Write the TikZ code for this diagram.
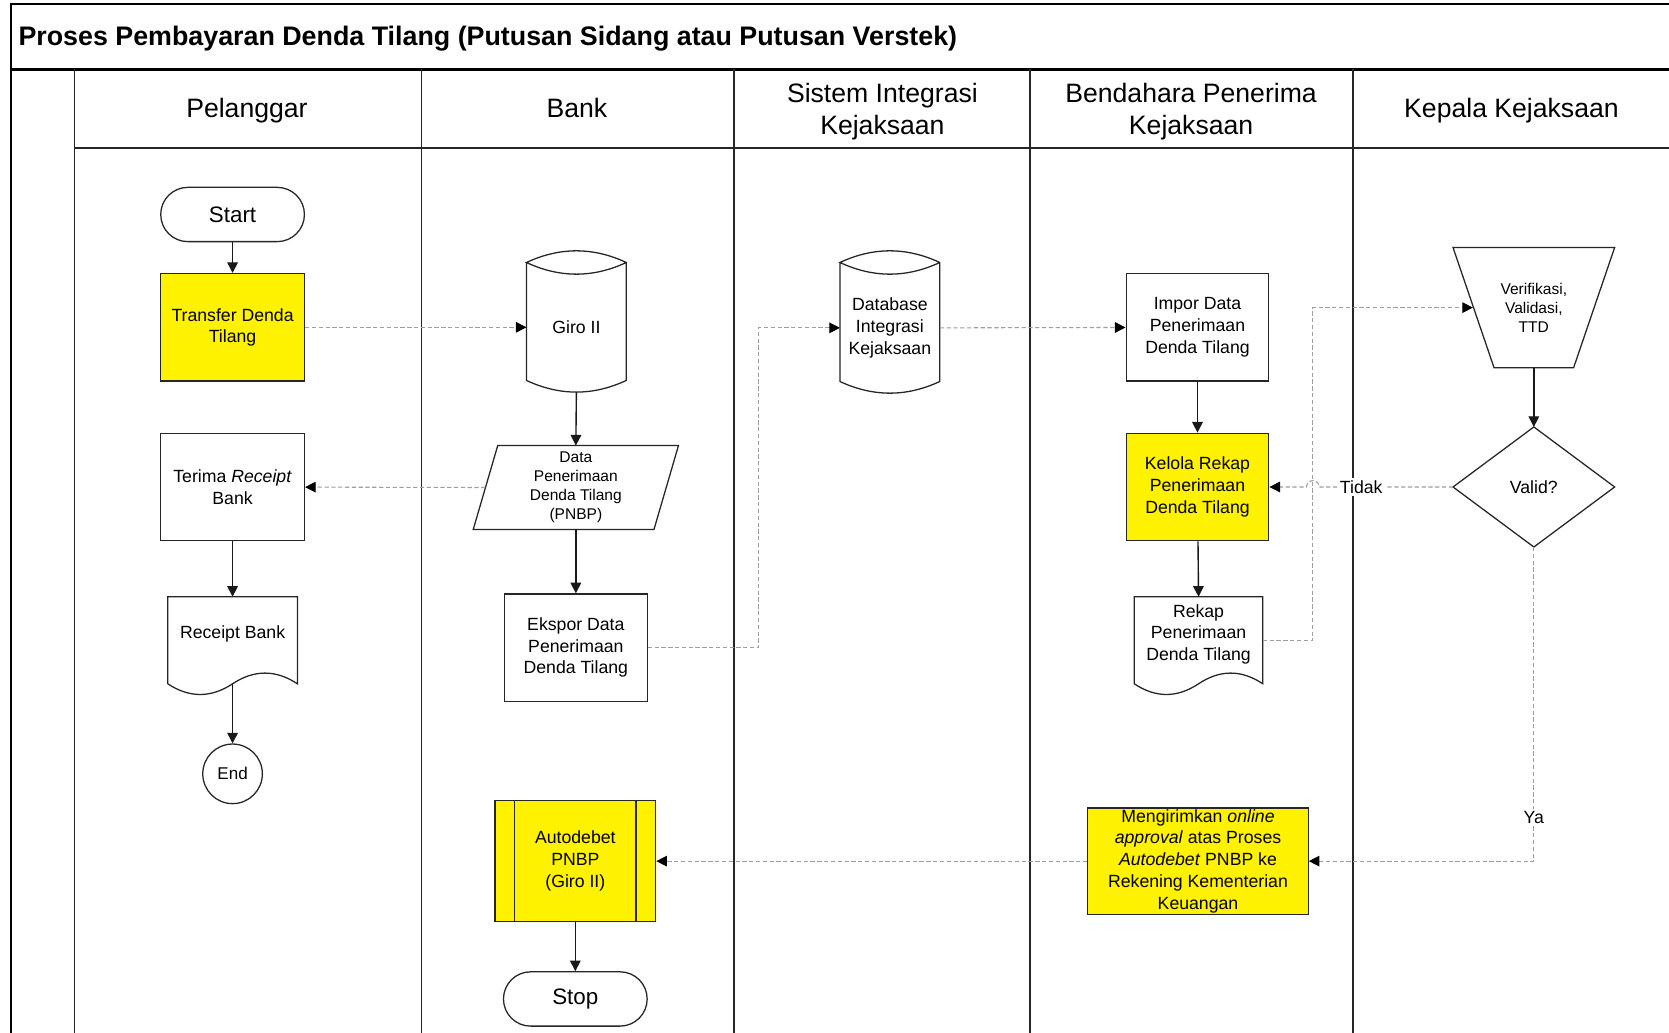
\documentclass[tikz,border=0pt]{standalone}
\usepackage{fontspec}
\setmainfont{Liberation Sans}
\usetikzlibrary{calc,arrows.meta}

% outline of a storage cylinder around a body node
\newcommand\cylout[1]{%
  \draw[shapeline] (#1.north west) -- ([yshift=5.5pt]#1.south west)
    .. controls ($(#1.south west)!0.333!(#1.south east)+(0pt,-1.8pt)$) and ($(#1.south west)!0.667!(#1.south east)+(0pt,-1.8pt)$) .. ([yshift=5.5pt]#1.south east)
    -- (#1.north east)
    .. controls ($(#1.north west)!0.667!(#1.north east)+(0pt,7.3pt)$) and ($(#1.north west)!0.333!(#1.north east)+(0pt,7.3pt)$) .. (#1.north west)
    .. controls ($(#1.north west)!0.333!(#1.north east)+(0pt,-7.3pt)$) and ($(#1.north west)!0.667!(#1.north east)+(0pt,-7.3pt)$) .. (#1.north east);}
% outline of a document with a wavy lower edge
\newcommand\docout[1]{%
  \draw[shapeline] (#1.south west) -- (#1.north west) -- (#1.north east) -- (#1.south east)
    .. controls ($(#1.south)!0.667!(#1.south east)+(0pt,6.7pt)$) and ($(#1.south)!0.333!(#1.south east)+(0pt,6.7pt)$) .. (#1.south)
    .. controls ($(#1.south west)!0.667!(#1.south)+(0pt,-6.7pt)$) and ($(#1.south west)!0.333!(#1.south)+(0pt,-6.7pt)$) .. (#1.south west);}

\begin{document}
\begin{tikzpicture}[x=0.5pt,y=-0.5pt,
  lane/.style={line width=0.9pt, draw=black!85},
  shapeline/.style={line width=0.6pt, draw=black!85, line join=miter},
  txt/.style={align=center, inner sep=0pt, font=\fontsize{8.3}{10.2}\selectfont},
  smalltxt/.style={align=center, inner sep=0pt, font=\fontsize{7.3}{8.9}\selectfont},
  plain/.style={txt, draw=none},
  box/.style={txt, shapeline, draw, minimum width=67.5pt, minimum height=50.5pt},
  hl/.style={fill=yellow},
  term/.style={draw, shapeline, align=center, inner sep=0pt, minimum width=67.5pt, minimum height=25.5pt, rounded corners=12.75pt, font=\fontsize{10.5}{12}\selectfont},
  head/.style={align=center, inner sep=0pt, font=\fontsize{12.5}{15}\selectfont},
  flow/.style={line width=0.65pt, draw=black!90, -{Triangle[length=5pt,width=5pt]}},
  msg/.style={draw=black!38, line width=0.5pt, dash pattern=on 2pt off 1.2pt, -{Triangle[length=5pt,width=5pt,color=black,fill=black]}},
  tag/.style={txt, fill=white, inner sep=1pt}
]
\useasboundingbox (0,0) rectangle (1568,970);
\clip (0,0) rectangle (1568,970);
\fill[white] (0,0) rectangle (1568,970);

% pool frame and lanes
\draw[line width=0.9pt] (10,980) -- (10,4) -- (1580,4);
\draw[line width=1.5pt] (10,65) -- (1580,65);
\draw[lane] (70,139) -- (1580,139);
\foreach \lx in {70,396,690,968,1271} \draw[lane] (\lx,65) -- (\lx,980);

\node[anchor=west, inner sep=0pt, font=\bfseries\fontsize{12.6}{14}\selectfont] (title) at (17,36) {Proses Pembayaran Denda Tilang (Putusan Sidang atau Putusan Verstek)};

\node[head] (h1) at (232,103.5) {Pelanggar};
\node[head] (h2) at (542,101.5) {Bank};
\node[head] (h3) at (829,105) {Sistem Integrasi\\Kejaksaan};
\node[head] (h4) at (1119,105) {Bendahara Penerima\\Kejaksaan};
\node[head] (h5) at (1420,103.5) {Kepala Kejaksaan};

% Pelanggar
\node[term] (start) at (218.5,201.5) {Start};
\node[box, hl] (transfer) at (218.5,307.5) {Transfer Denda\\Tilang};
\node[box] (terima) at (218.5,457.5) {Terima \textit{Receipt}\\Bank};
\node[plain, minimum width=60.5pt, minimum height=40.5pt] (rcpt) at (218.5,601.5) {};
\docout{rcpt}
\node[txt] (rcpt-t) at ([yshift=2.75pt]rcpt.center) {Receipt Bank};
\node[draw, shapeline, circle, minimum size=28pt, inner sep=0pt, font=\fontsize{8}{9}\selectfont] (endc) at (218.5,727) {End};

% Bank
\node[plain, minimum width=46.5pt, minimum height=60.5pt] (giro) at (541.5,307.5) {Giro II};
\cylout{giro}
\node[plain, smalltxt, minimum width=84.5pt, minimum height=39pt] (data) at (541,458) {Data\\Penerimaan\\Denda Tilang\\(PNBP)};
\draw[shapeline] ([xshift=5.75pt]data.north west) -- ([xshift=5.75pt]data.north east) -- ([xshift=-5.75pt]data.south east) -- ([xshift=-5.75pt]data.south west) -- cycle;
\node[box, minimum width=67pt] (ekspor) at (541,608.5) {Ekspor Data\\Penerimaan\\Denda Tilang};
\node[box, hl, minimum width=75.5pt, minimum height=57pt] (autodb) at (540.5,809) {Autodebet\\PNBP\\(Giro II)};
\draw[shapeline] ([xshift=9.5pt]autodb.north west) -- ([xshift=9.5pt]autodb.south west);
\draw[shapeline] ([xshift=-9.5pt]autodb.north east) -- ([xshift=-9.5pt]autodb.south east);
\node[term] (stop) at (540.5,938.5) {Stop};

% Sistem Integrasi Kejaksaan
\node[plain, minimum width=46.5pt, minimum height=61pt] (db) at (836,308) {Database\\Integrasi\\Kejaksaan};
\cylout{db}

% Bendahara Penerima Kejaksaan
\node[box, minimum width=67pt] (impor) at (1125,307.5) {Impor Data\\Penerimaan\\Denda Tilang};
\node[box, hl, minimum width=67pt] (kelola) at (1125,457.5) {Kelola Rekap\\Penerimaan\\Denda Tilang};
\node[plain, minimum width=60pt, minimum height=40.5pt] (rekap) at (1126,601.5) {};
\docout{rekap}
\node[txt] (rekap-t) at ([yshift=2.75pt]rekap.center) {Rekap\\Penerimaan\\Denda Tilang};
\node[box, hl, minimum width=103.5pt, minimum height=50pt] (kirim) at (1125.5,809) {Mengirimkan \textit{online}\\\textit{approval} atas Proses\\\textit{Autodebet} PNBP ke\\Rekening Kementerian\\Keuangan};

% Kepala Kejaksaan
\node[plain, smalltxt, minimum width=56.25pt, minimum height=56pt] (verif) at (1441,289) {Verifikasi,\\Validasi,\\TTD};
\draw[shapeline] ([xshift=-9.625pt]verif.north west) -- ([xshift=9.625pt]verif.north east) -- ([xshift=-9.625pt]verif.south east) -- ([xshift=9.625pt]verif.south west) -- cycle;
\node[plain, minimum width=75.5pt, minimum height=56pt] (valid) at (1441,457.5) {Valid?};
\draw[shapeline] (valid.north) -- (valid.east) -- (valid.south) -- (valid.west) -- cycle;

% sequence flow
\draw[flow] (start) -- (transfer);
\draw[flow] (terima) -- (rcpt-t.north |- rcpt.north);
\draw[flow] (rcpt.south) -- (endc);
\draw[flow] (giro.south) -- (data.north);
\draw[flow] (data.south) -- (ekspor);
\draw[flow] (autodb) -- (stop);
\draw[flow] (impor) -- (kelola);
\draw[flow] (kelola) -- (rekap.north);
\draw[flow] (verif.south) -- (valid.north);

% message flow
\coordinate (bend0) at ($(ekspor.east)+(104,0)$);
\coordinate (bend1) at ($(rekap.east)+(47,0)$);
\coordinate (hop) at (bend1 |- valid.west);
\draw[msg] (transfer) -- (giro.west);
\draw[msg] (data.west) -- (terima);
\draw[msg] (ekspor.east) -- (bend0) |- (db.west);
\draw[msg] (db.east) -- (impor);
\draw[msg] (rekap.east) -- (bend1) |- ([xshift=-0.3pt]verif.west);
\draw[msg] (valid.west) -- ([xshift=3pt]hop) arc[start angle=0, end angle=180, radius=3pt] -- (kelola.east);
\node[tag] (tidak) at ($(valid.west)!0.5!(kelola.east)$) {Tidak};
\draw[msg] (valid.south) |- node[tag, pos=0.43] (ya) {Ya} (kirim.east);
\draw[msg] (kirim) -- (autodb);
\end{tikzpicture}
\end{document}
